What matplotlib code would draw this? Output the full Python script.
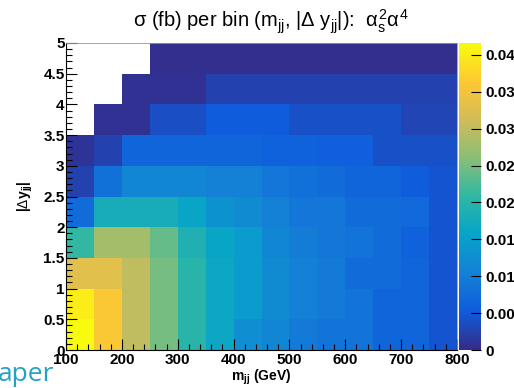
import numpy as np
import matplotlib
matplotlib.use("Agg")
import matplotlib.pyplot as plt
from matplotlib.colors import LinearSegmentedColormap
from matplotlib.ticker import MultipleLocator, FixedLocator

# ---- data ----
mjj_edges = [100, 150, 200, 250, 300, 350, 400, 450, 500, 550, 600, 650, 700, 750, 800]
dy_edges = [0.0, 0.5, 1.0, 1.5, 2.0, 2.5, 3.0, 3.5, 4.0, 4.5, 5.0]
nan = np.nan
# rows: |dy| bins from bottom (0-0.5) to top (4.5-5); columns: mjj bins 100..800
row_0 = [0.0415, 0.036, 0.030, 0.025, 0.020, 0.0165, 0.0125, 0.0115, 0.0095, 0.0085, 0.0085, 0.0065, 0.0065, 0.0045]
row_1 = [0.0400, 0.036, 0.030, 0.025, 0.020, 0.0165, 0.0145, 0.0120, 0.0105, 0.0095, 0.0085, 0.0065, 0.0065, 0.0045]
row_2 = [0.0330, 0.033, 0.030, 0.025, 0.020, 0.0165, 0.0145, 0.0120, 0.0105, 0.0095, 0.0075, 0.0075, 0.0065, 0.0045]
row_3 = [0.0210, 0.028, 0.028, 0.024, 0.019, 0.0160, 0.0145, 0.0115, 0.0100, 0.0090, 0.0085, 0.0075, 0.0060, 0.0045]
row_4 = [0.0075, 0.018, 0.018, 0.018, 0.016, 0.0130, 0.0120, 0.0105, 0.0090, 0.0090, 0.0075, 0.0075, 0.0070, 0.0045]
row_5 = [0.0025, 0.008, 0.0115, 0.0115, 0.0115, 0.0105, 0.0105, 0.0090, 0.0080, 0.0075, 0.0065, 0.0065, 0.0055, 0.0045]
row_6 = [0.0010, 0.0025, 0.0065, 0.0065, 0.0065, 0.0065, 0.0065, 0.0060, 0.0060, 0.0058, 0.0058, 0.0040, 0.0040, 0.0040]
row_7 = [nan, 0.0008, 0.0008, 0.0038, 0.0038, 0.0055, 0.0055, 0.0055, 0.0040, 0.0040, 0.0040, 0.0040, 0.0028, 0.0028]
row_8 = [nan, nan, 0.0008, 0.0008, 0.0008, 0.0025, 0.0025, 0.0025, 0.0025, 0.0025, 0.0025, 0.0025, 0.0025, 0.0025]
row_9 = [nan, nan, nan, 0.0006, 0.0006, 0.0006, 0.0006, 0.0006, 0.0006, 0.0006, 0.0006, 0.0006, 0.0006, 0.0006]

x_ticks = [100, 200, 300, 400, 500, 600, 700, 800]
x_ticklabels = ["100", "200", "300", "400", "500", "600", "700", "800"]
y_ticks = [0, 0.5, 1, 1.5, 2, 2.5, 3, 3.5, 4, 4.5, 5]
y_ticklabels = ["0", "0.5", "1", "1.5", "2", "2.5", "3", "3.5", "4", "4.5", "5"]
z_ticks = [0, 0.005, 0.010, 0.015, 0.020, 0.025, 0.030, 0.035, 0.040]
z_ticklabels = ["0", "0.00", "0.01", "0.01", "0.02", "0.02", "0.03", "0.03", "0.04"]
z_max = 0.0416

# ROOT kBird palette
bird_stops = [0.0, 0.125, 0.25, 0.375, 0.5, 0.625, 0.75, 0.875, 1.0]
bird_r = [0.2082, 0.0592, 0.0780, 0.0232, 0.1802, 0.5301, 0.8186, 0.9956, 0.9764]
bird_g = [0.1664, 0.3599, 0.5041, 0.6419, 0.7178, 0.7492, 0.7328, 0.7862, 0.9832]
bird_b = [0.5293, 0.8684, 0.8385, 0.7914, 0.6425, 0.4662, 0.3499, 0.1968, 0.0539]

cmap = LinearSegmentedColormap.from_list(
    "bird", list(zip(bird_stops, zip(bird_r, bird_g, bird_b))), N=256)
cmap.set_bad("white")

Z = np.ma.masked_invalid(np.array([row_0, row_1, row_2, row_3, row_4,
                                   row_5, row_6, row_7, row_8, row_9]))

W, H = 514, 388
fig = plt.figure(figsize=(W / 100, H / 100), dpi=100)
plt.rcParams["font.family"] = ["Liberation Sans", "DejaVu Sans"]
plt.rcParams["mathtext.fontset"] = "custom"
plt.rcParams["mathtext.rm"] = "Liberation Sans"
plt.rcParams["mathtext.it"] = "Liberation Sans"
plt.rcParams["mathtext.bf"] = "Liberation Sans:bold"

px = lambda x: x / W
py = lambda y: 1 - y / H

left, right, top, bottom = 66, 457, 43, 350
ax = fig.add_axes([px(left), py(bottom), px(right - left), (bottom - top) / H])
cax = fig.add_axes([px(459), py(bottom), px(22), (bottom - top) / H])

mesh = ax.pcolormesh(mjj_edges, dy_edges, Z, cmap=cmap, vmin=0, vmax=z_max,
                     shading="flat", edgecolors="none")
ax.set_xlim(100, 800)
ax.set_ylim(0, 5)

TICK_FS = 11
ax.set_xticks(x_ticks)
ax.set_xticklabels(x_ticklabels)
ax.set_yticks(y_ticks)
ax.set_yticklabels(y_ticklabels)
ax.xaxis.set_minor_locator(MultipleLocator(20))
ax.yaxis.set_minor_locator(MultipleLocator(0.1))
ax.tick_params(which="both", direction="in", colors="black", labelsize=TICK_FS,
               top=False, right=False, width=0.8)
ax.tick_params(which="major", length=8)
ax.tick_params(which="minor", length=4)
for lbl in ax.get_xticklabels() + ax.get_yticklabels():
    lbl.set_fontweight("bold")
ax.tick_params(axis="x", pad=2)
ax.tick_params(axis="y", pad=1)
for s in ["left", "bottom"]:
    ax.spines[s].set_color("black")
    ax.spines[s].set_linewidth(0.8)
for s in ["top", "right"]:
    ax.spines[s].set_color("#999999")
    ax.spines[s].set_linewidth(0.6)

ax.set_xlabel(r"m$_{\mathbf{jj}}$ (GeV)", fontsize=10, fontweight="bold", labelpad=1)
ax.set_ylabel(r"|$\Delta$y$_{\mathbf{jj}}$|", fontsize=10, fontweight="bold", labelpad=6)

cb = fig.colorbar(mesh, cax=cax)
cb.outline.set_linewidth(0)
cax.yaxis.set_major_locator(FixedLocator(z_ticks))
cax.set_yticklabels(z_ticklabels)
cax.tick_params(which="major", direction="in", length=7, width=0.8, colors="black",
                labelsize=TICK_FS, pad=3)
cax.minorticks_off()
for lbl in cax.get_yticklabels():
    lbl.set_fontweight("bold")

fig.text(px(271), py(22),
         r"$\sigma$ (fb) per bin (m$_{\mathrm{jj}}$, |$\Delta$ y$_{\mathrm{jj}}$|):  $\alpha_{\mathrm{s}}^{2}\alpha^{4}$",
         ha="center", va="center", fontsize=14.5)

fig.text(px(54), py(381), "aper", ha="right", va="baseline", fontsize=19,
         color="#22a2c4", family=["Open Sans", "DejaVu Sans"])

fig.savefig("out.png", dpi=100)
